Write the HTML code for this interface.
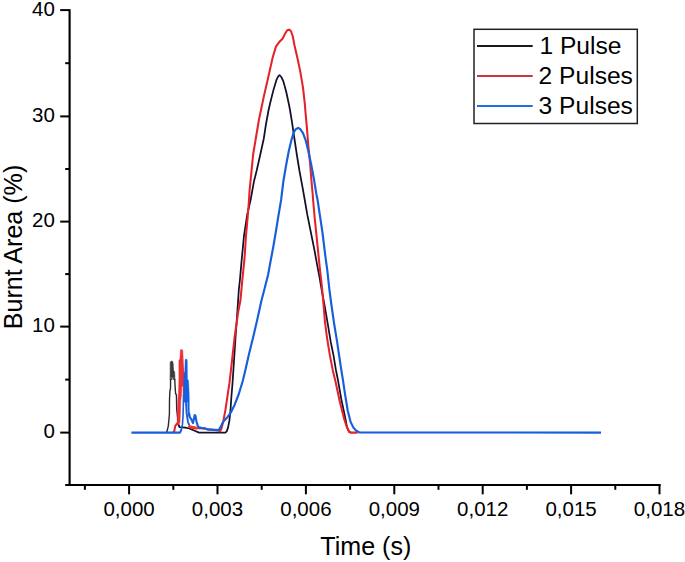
<!DOCTYPE html>
<html><head><meta charset="utf-8"><title>Burnt Area vs Time</title>
<style>
html,body{margin:0;padding:0;background:#fff;}
body{width:685px;height:562px;overflow:hidden;font-family:"Liberation Sans",sans-serif;}
svg{display:block;}
</style></head><body>
<svg width="685" height="562" viewBox="0 0 685 562">
<rect x="0" y="0" width="685" height="562" fill="#ffffff"/>
<g stroke="#000" stroke-width="2.15" fill="none" stroke-linecap="butt">
<line x1="69.6" y1="9.2" x2="69.6" y2="486.1"/>
<line x1="68.5" y1="485.0" x2="660.7" y2="485.0"/>
</g>
<g stroke="#000" stroke-width="2" fill="none">
<line x1="60.2" y1="10.1" x2="69.6" y2="10.1"/>
<line x1="60.2" y1="116.4" x2="69.6" y2="116.4"/>
<line x1="60.2" y1="221.6" x2="69.6" y2="221.6"/>
<line x1="60.2" y1="326.6" x2="69.6" y2="326.6"/>
<line x1="60.2" y1="432.6" x2="69.6" y2="432.6"/>
<line x1="65.2" y1="63.2" x2="69.6" y2="63.2"/>
<line x1="65.2" y1="169.0" x2="69.6" y2="169.0"/>
<line x1="65.2" y1="274.1" x2="69.6" y2="274.1"/>
<line x1="65.2" y1="379.6" x2="69.6" y2="379.6"/>
<line x1="65.2" y1="485.0" x2="69.6" y2="485.0"/>
<line x1="129.1" y1="485.0" x2="129.1" y2="494.3"/>
<line x1="217.5" y1="485.0" x2="217.5" y2="494.3"/>
<line x1="305.9" y1="485.0" x2="305.9" y2="494.3"/>
<line x1="394.3" y1="485.0" x2="394.3" y2="494.3"/>
<line x1="482.7" y1="485.0" x2="482.7" y2="494.3"/>
<line x1="571.1" y1="485.0" x2="571.1" y2="494.3"/>
<line x1="659.5" y1="485.0" x2="659.5" y2="494.3"/>
<line x1="84.9" y1="485.0" x2="84.9" y2="489.8"/>
<line x1="173.3" y1="485.0" x2="173.3" y2="489.8"/>
<line x1="261.7" y1="485.0" x2="261.7" y2="489.8"/>
<line x1="350.1" y1="485.0" x2="350.1" y2="489.8"/>
<line x1="438.5" y1="485.0" x2="438.5" y2="489.8"/>
<line x1="526.9" y1="485.0" x2="526.9" y2="489.8"/>
<line x1="615.3" y1="485.0" x2="615.3" y2="489.8"/>
</g>
<g font-family="Liberation Sans, sans-serif" font-size="20.5" fill="#000">
<text x="54.9" y="15.6" text-anchor="end">40</text>
<text x="54.9" y="121.9" text-anchor="end">30</text>
<text x="54.9" y="227.1" text-anchor="end">20</text>
<text x="54.9" y="332.1" text-anchor="end">10</text>
<text x="54.9" y="438.1" text-anchor="end">0</text>
<text x="129.1" y="515.6" text-anchor="middle">0,000</text>
<text x="217.5" y="515.6" text-anchor="middle">0,003</text>
<text x="305.9" y="515.6" text-anchor="middle">0,006</text>
<text x="394.3" y="515.6" text-anchor="middle">0,009</text>
<text x="482.7" y="515.6" text-anchor="middle">0,012</text>
<text x="571.1" y="515.6" text-anchor="middle">0,015</text>
<text x="659.5" y="515.6" text-anchor="middle">0,018</text>
</g>
<g font-family="Liberation Sans, sans-serif" font-size="25.1" fill="#000">
<text x="365.8" y="554.7" text-anchor="middle">Time (s)</text>
<text transform="translate(21.9,247) rotate(-90)" text-anchor="middle">Burnt Area (%)</text>
</g>
<g fill="none" stroke-linejoin="round" stroke-linecap="butt">
<polyline stroke="#2a2a30" stroke-width="1.4" points="165.8,432.6 166.8,432.0 168.3,426.1 169.4,414.4 169.5,400.0 169.9,391.0 170.5,388.5 170.6,379.0"/>
<polygon fill="#3c3c40" stroke="#3c3c40" stroke-width="0.6" points="170.1,380.0 170.2,362.3 170.9,361.2 172.5,361.2 173.1,363.0 173.6,370.8 174.6,371.6 175.0,380.0 174.4,380.0 174.0,376.0 173.2,380.0 172.4,376.0 171.6,380.0 171.0,376.0"/>
<polyline stroke="#2a2a30" stroke-width="1.4" points="174.7,379.0 175.2,388.0 175.6,393.8 176.4,394.8 176.7,409.5 177.6,417.3 178.1,424.1 179.6,427.1"/>
<polyline stroke="#14102a" stroke-width="1.75" points="178.1,424.1 179.6,427.1 185.4,427.6 189.4,428.5 195.2,431.0 199.1,432.6 225.4,432.6 226.7,431.4 228.1,427.4 229.4,420.7 230.5,410.1 231.4,396.7 232.5,383.4 233.4,370.0 235.6,336.3 237.4,311.4 238.8,290.0 239.9,280.1 241.8,258.7 244.0,235.6 247.3,214.2 250.6,200.0 254.0,181.2 256.7,170.5 260.3,154.5 263.8,138.5 266.0,124.0 268.6,110.0 270.0,103.7 273.6,89.4 276.6,79.6 278.4,76.1 279.5,75.2 281.3,77.0 283.4,81.4 286.1,91.2 288.8,103.7 290.0,110.0 292.3,124.2 294.4,138.5 296.8,154.5 299.4,170.5 302.1,184.8 304.6,199.0 307.2,214.2 310.8,232.0 314.4,249.8 317.0,264.1 319.7,278.3 321.7,290.0 324.9,307.1 327.8,324.1 330.6,341.2 333.5,355.4 335.9,369.9 337.8,379.2 341.3,399.1 344.9,416.2 347.0,427.0 349.1,431.8 351.0,432.6"/>
<polyline stroke="#e4222a" stroke-width="2" points="172.8,432.6 174.2,431.5 175.2,426.1 177.3,423.0"/>
<polygon fill="#ec3236" stroke="#ec3236" stroke-width="0.5" points="177.1,424.0 177.5,410.0 177.9,400.0 178.4,393.8 178.9,380.0 178.9,360.3 179.9,359.0 180.3,351.0 180.7,349.6 182.4,349.8 182.8,351.0 183.4,363.9 184.4,373.9 184.6,398.0 183.1,396.0 183.0,386.5 181.9,386.0 181.5,395.0 180.8,400.0 180.5,410.0 180.0,422.0 179.0,424.5"/>
<polyline stroke="#f03a1c" stroke-width="3" points="188.6,425.6 190.0,426.6 192.0,427.3 196.6,428.3"/>
<polyline stroke="#e4222a" stroke-width="2.05" points="196.2,428.4 198.7,428.0 205.0,428.6 208.0,429.5 218.7,430.4 220.1,431.4 221.4,428.8 223.4,420.7 225.4,410.1 227.4,396.7 229.4,383.4 231.3,367.0 234.7,336.3 238.3,311.4 240.5,300.0 242.3,280.1 244.5,258.7 246.0,235.6 247.6,217.8 249.0,200.0 249.6,190.1 251.4,172.3 253.1,154.5 255.8,138.5 257.9,126.0 258.9,120.0 263.8,96.6 268.3,77.0 272.7,57.4 275.9,46.7 279.0,42.3 282.5,38.7 285.2,33.4 287.3,30.3 289.1,29.6 290.9,31.0 292.7,36.0 294.4,44.9 297.7,59.2 300.3,71.6 303.0,87.7 304.8,103.7 305.3,110.0 306.9,127.8 308.3,145.6 310.1,163.4 311.5,181.2 312.8,195.5 313.1,200.0 314.7,217.8 316.5,235.6 318.3,253.4 320.1,271.2 321.8,285.5 323.5,304.2 324.9,321.3 327.1,338.3 329.9,355.4 332.7,369.9 335.6,382.1 339.9,402.0 344.2,419.0 347.0,427.6 349.1,431.8 350.5,432.6 357.5,432.6"/>
<polyline stroke="#165edb" stroke-width="2.1" points="131.4,432.6 180.0,432.6 181.4,429.6"/>
<polyline stroke="#165edb" stroke-width="1.6" points="181.0,430.4 181.4,429.6 182.4,424.9 183.0,416.4 183.4,402.1 183.6,395.0"/>
<polygon fill="#1560dc" stroke="#1560dc" stroke-width="0.5" points="183.3,403.0 183.7,390.0 183.9,373.0 184.9,372.0 185.1,360.4 185.5,359.2 186.9,359.2 187.2,360.4 187.4,378.9 188.5,380.6 189.2,395.0 189.3,411.0 189.9,417.5 188.6,416.0 187.9,411.0 187.7,402.0 185.9,402.0 184.6,402.0"/>
<polyline stroke="#165edb" stroke-width="1.9" points="185.9,401.0 186.6,412.8 188.0,422.0 189.2,425.2"/>
<polyline stroke="#165edb" stroke-width="2.15" points="189.0,413.0 189.8,417.1 190.8,418.5 191.9,420.6 193.0,423.1 194.0,418.5 194.7,415.0 195.4,415.7 196.5,421.4 197.6,425.6 199.0,427.4 202.0,428.1 205.0,428.4 208.0,429.4 218.7,430.1 220.7,426.7 223.4,421.4 226.7,418.1 230.7,412.7 234.7,404.7 238.8,394.0 242.8,380.7 245.4,370.0 249.0,354.1 253.4,336.3 257.9,316.7 261.4,300.7 265.0,287.0 268.1,274.8 270.7,260.5 273.4,246.3 276.1,230.3 278.7,214.2 281.1,200.0 283.4,181.2 286.1,165.2 288.8,151.0 291.4,140.3 293.7,132.3 295.9,129.2 298.2,127.8 300.3,129.2 303.0,133.1 305.7,140.3 308.3,151.0 311.0,163.4 313.7,177.7 316.3,193.7 317.6,200.0 319.7,214.2 322.4,232.0 325.0,253.4 327.4,271.2 329.2,288.0 331.3,304.2 334.2,324.1 337.0,341.2 339.1,355.4 341.3,369.9 342.8,379.2 344.9,393.4 347.7,410.5 350.6,421.9 353.4,427.6 356.3,430.8 359.1,432.3 601.0,432.6"/>
</g>
<rect x="474.0" y="29.3" width="163.3" height="94.2" fill="#fff" stroke="#222" stroke-width="1.5"/>
<g stroke-width="2">
<line x1="477.0" y1="45.9" x2="532.7" y2="45.9" stroke="#1a1a1a"/>
<line x1="477.0" y1="75.9" x2="532.7" y2="75.9" stroke="#cc3340"/>
<line x1="477.0" y1="105.9" x2="532.7" y2="105.9" stroke="#1f6fe0"/>
</g>
<g font-family="Liberation Sans, sans-serif" font-size="24.6" fill="#000">
<text x="539.4" y="53.8">1 Pulse</text>
<text x="538.6" y="83.8">2 Pulses</text>
<text x="538.6" y="113.8">3 Pulses</text>
</g>
</svg>
</body></html>
